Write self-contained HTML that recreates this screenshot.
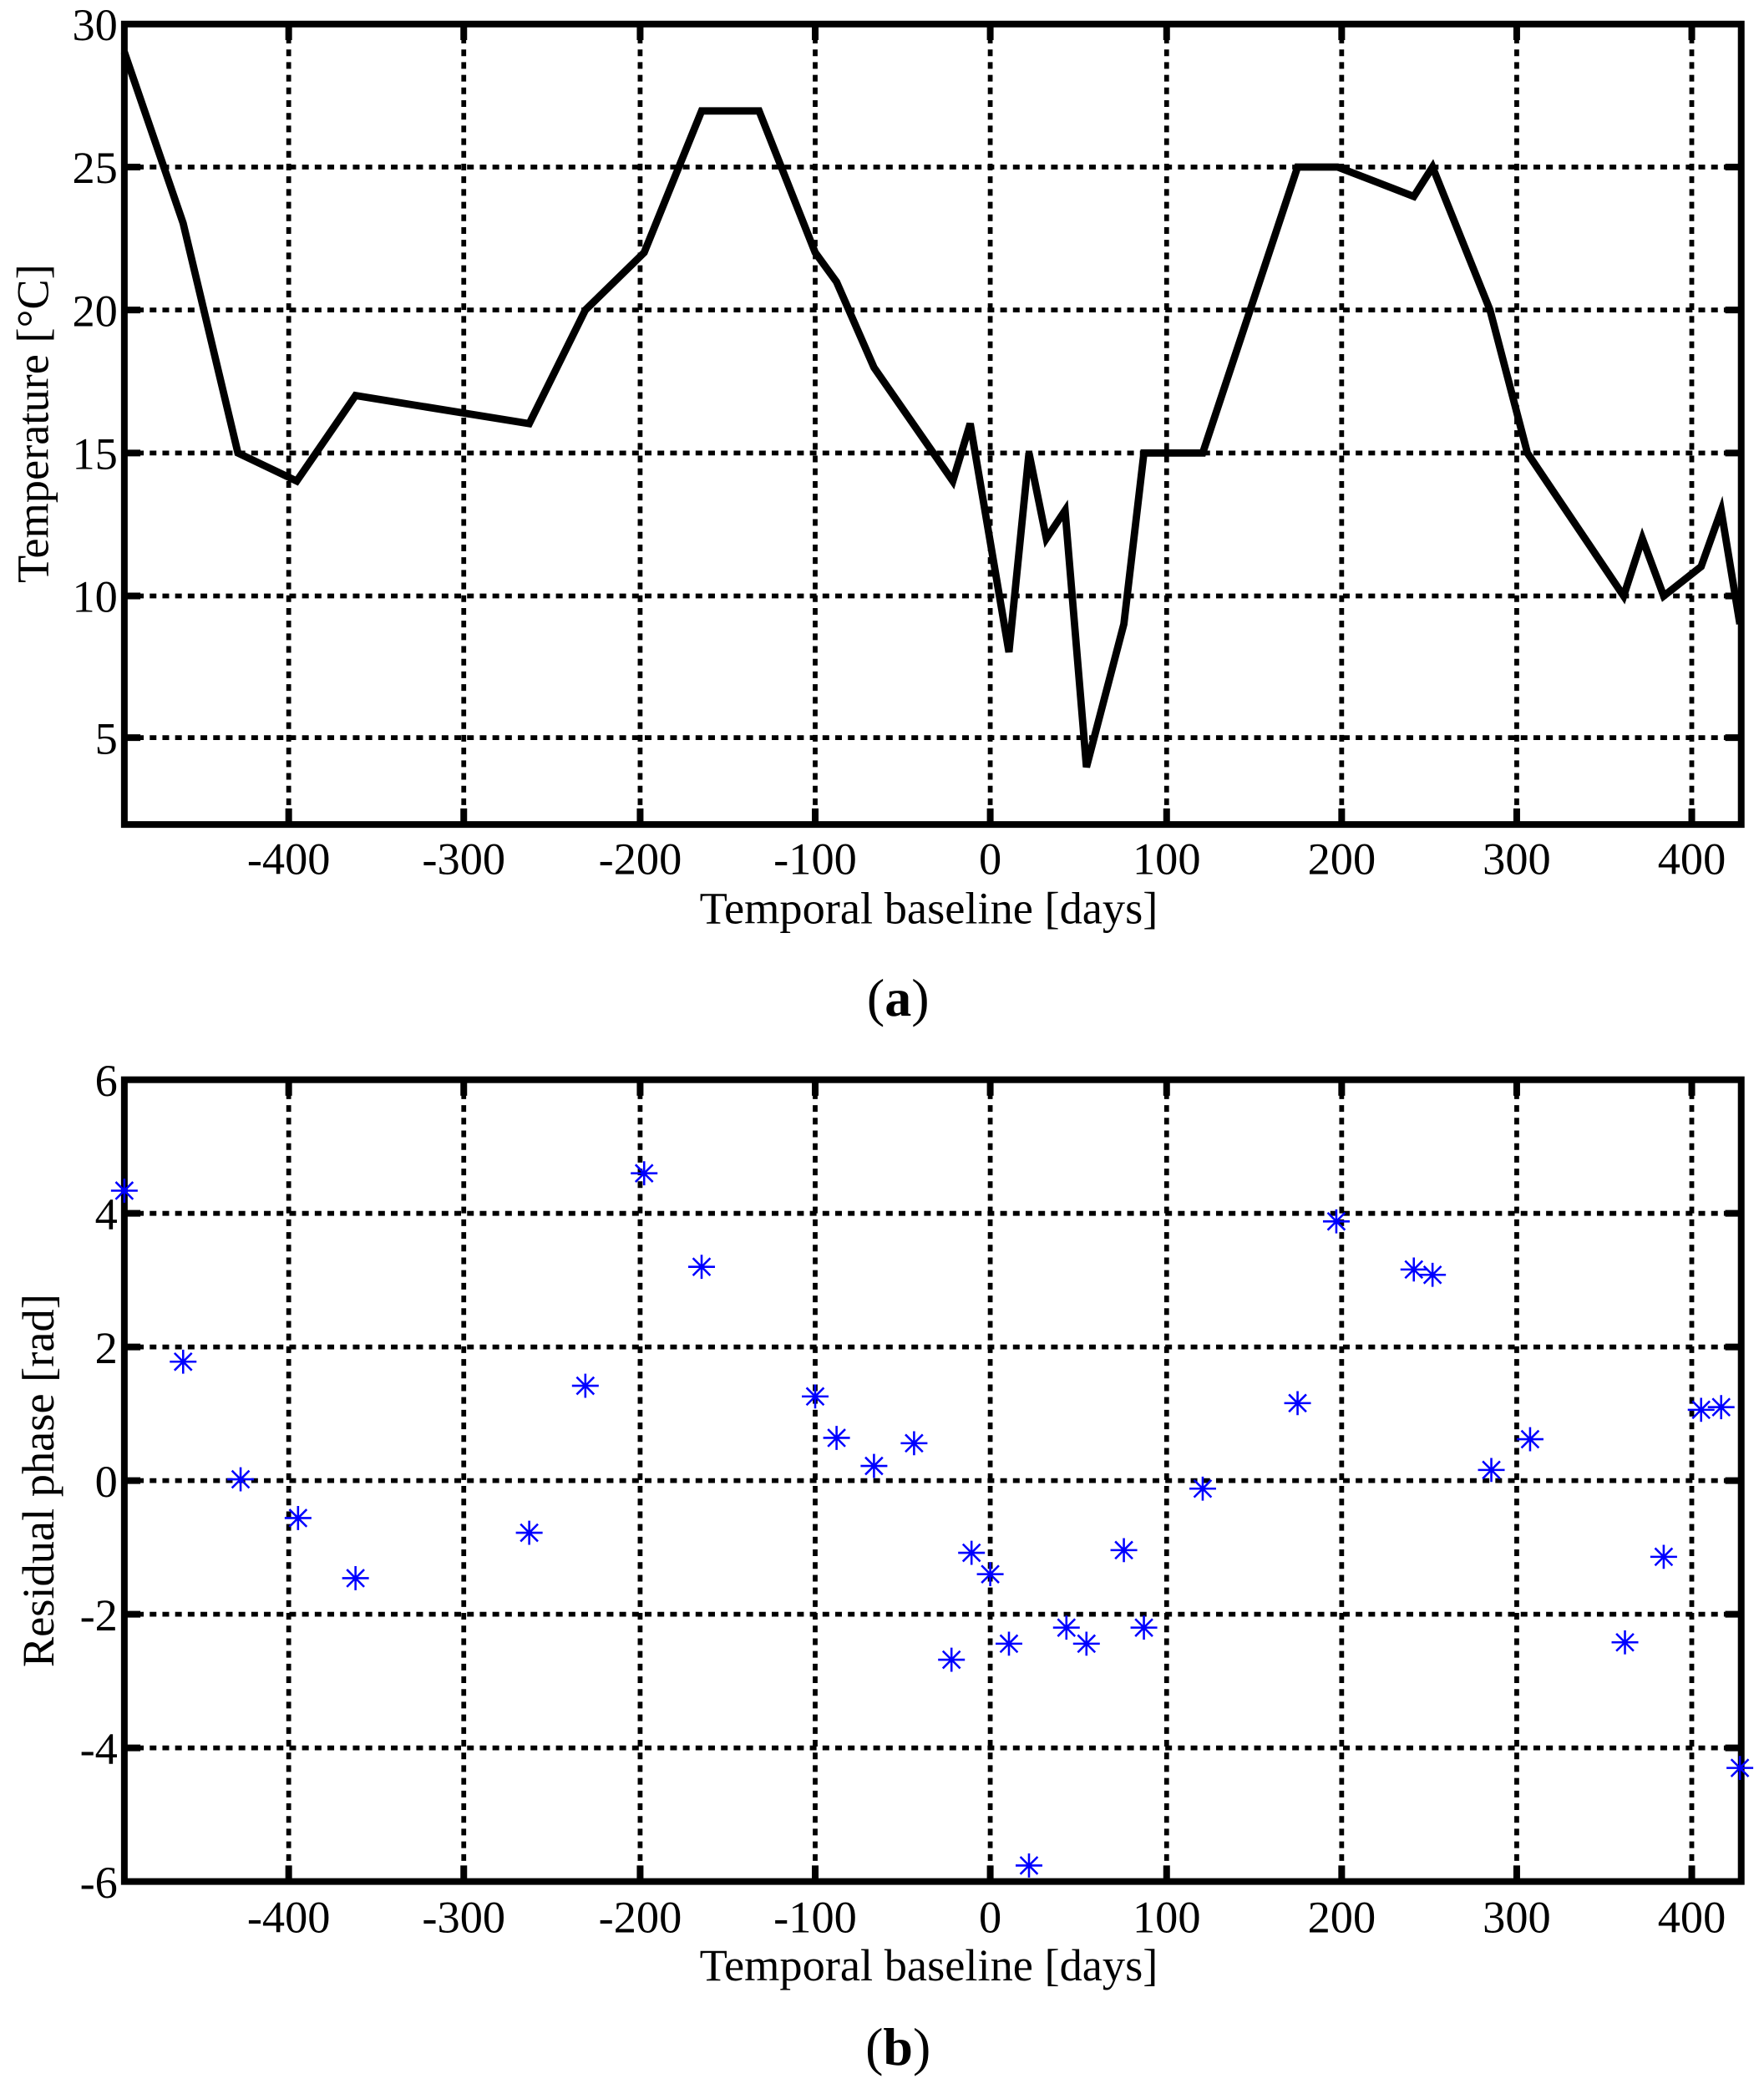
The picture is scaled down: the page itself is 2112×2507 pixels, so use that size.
<!DOCTYPE html>
<html><head><style>html,body{margin:0;padding:0;background:#fff}svg{display:block}</style></head>
<body>
<svg width="2112" height="2507" viewBox="0 0 1320 1567" xmlns="http://www.w3.org/2000/svg" font-family="Liberation Serif, serif" font-size="34">
<rect width="1320" height="1567" fill="#fff"/>
<g stroke="#000" stroke-width="3.6" stroke-dasharray="5,4.5" fill="none">
<path d="M216 18V617M347 18V617M479 18V617M610 18V617M741 18V617M873 18V617M1004 18V617M1135 18V617M1266 18V617"/>
<path d="M93 125H1303M93 232H1303M93 339H1303M93 446H1303M93 552H1303"/>
<path d="M216 808V1408M347 808V1408M479 808V1408M610 808V1408M741 808V1408M873 808V1408M1004 808V1408M1135 808V1408M1266 808V1408"/>
<path d="M93 908H1303M93 1008H1303M93 1108H1303M93 1208H1303M93 1308H1303"/>
</g>
<polyline fill="none" stroke="#000" stroke-width="5.5" stroke-linejoin="miter" points="93,39 137,167 178,339 222,360 266,296 396,317 438,232 482,189 525,83 568,83 610,189 626,211 654,275 713,360 726,317 755,488 770,339 783,403 797,382 813,574 841,467 856,339 900,339 971,125 1001,125 1058,147 1072,125 1115,232 1143,339 1215,446 1229,403 1245,446 1273,424 1288,382 1302,467"/>
<g stroke="#000" stroke-width="5" fill="none">
<rect x="93" y="18" width="1210" height="599"/>
<rect x="93" y="808" width="1210" height="600"/>
<path d="M216 18v12M347 18v12M479 18v12M610 18v12M741 18v12M873 18v12M1004 18v12M1135 18v12M1266 18v12M216 617v-12M347 617v-12M479 617v-12M610 617v-12M741 617v-12M873 617v-12M1004 617v-12M1135 617v-12M1266 617v-12"/>
<path d="M93 125h12M93 232h12M93 339h12M93 446h12M93 552h12M1303 125h-12M1303 232h-12M1303 339h-12M1303 446h-12M1303 552h-12"/>
<path d="M216 808v12M347 808v12M479 808v12M610 808v12M741 808v12M873 808v12M1004 808v12M1135 808v12M1266 808v12M216 1408v-12M347 1408v-12M479 1408v-12M610 1408v-12M741 1408v-12M873 1408v-12M1004 1408v-12M1135 1408v-12M1266 1408v-12"/>
<path d="M93 908h12M93 1008h12M93 1108h12M93 1208h12M93 1308h12M1303 908h-12M1303 1008h-12M1303 1108h-12M1303 1208h-12M1303 1308h-12"/>
</g>
<defs><g id="s" stroke="#00f" stroke-width="1.6"><path d="M-10 0H10M0 -9V9M-6.5 -6.5L6.5 6.5M-6.5 6.5L6.5 -6.5"/></g></defs>
<g>
<use href="#s" x="93" y="891"/><use href="#s" x="137" y="1019"/><use href="#s" x="180" y="1107"/><use href="#s" x="223" y="1136"/><use href="#s" x="266" y="1181"/><use href="#s" x="396" y="1147"/><use href="#s" x="438" y="1037"/><use href="#s" x="482" y="878"/><use href="#s" x="525" y="948"/><use href="#s" x="610" y="1045"/><use href="#s" x="626" y="1076"/><use href="#s" x="654" y="1097"/><use href="#s" x="684" y="1080"/><use href="#s" x="712" y="1242"/><use href="#s" x="727" y="1162"/><use href="#s" x="741" y="1178"/><use href="#s" x="755" y="1230"/><use href="#s" x="770" y="1396"/><use href="#s" x="798" y="1218"/><use href="#s" x="813" y="1230"/><use href="#s" x="841" y="1160"/><use href="#s" x="856" y="1218"/><use href="#s" x="900" y="1114"/><use href="#s" x="971" y="1050"/><use href="#s" x="1000" y="914"/><use href="#s" x="1058" y="950"/><use href="#s" x="1072" y="954"/><use href="#s" x="1116" y="1100"/><use href="#s" x="1145" y="1077"/><use href="#s" x="1216" y="1229"/><use href="#s" x="1245" y="1165"/><use href="#s" x="1273" y="1055"/><use href="#s" x="1288" y="1053"/><use href="#s" x="1302" y="1323"/>
</g>
<g text-anchor="end">
<text x="88" y="30">30</text><text x="88" y="137">25</text><text x="88" y="244">20</text><text x="88" y="351">15</text><text x="88" y="458">10</text><text x="88" y="564">5</text>
<text x="88" y="820">6</text><text x="88" y="920">4</text><text x="88" y="1020">2</text><text x="88" y="1120">0</text><text x="88" y="1220">-2</text><text x="88" y="1320">-4</text><text x="88" y="1420">-6</text>
</g>
<g text-anchor="middle">
<text x="216" y="654">-400</text><text x="347" y="654">-300</text><text x="479" y="654">-200</text><text x="610" y="654">-100</text><text x="741" y="654">0</text><text x="873" y="654">100</text><text x="1004" y="654">200</text><text x="1135" y="654">300</text><text x="1266" y="654">400</text>
<text x="695" y="691">Temporal baseline [days]</text>
<text x="672" y="760" font-size="40">(<tspan font-weight="bold">a</tspan>)</text>
<text x="216" y="1446">-400</text><text x="347" y="1446">-300</text><text x="479" y="1446">-200</text><text x="610" y="1446">-100</text><text x="741" y="1446">0</text><text x="873" y="1446">100</text><text x="1004" y="1446">200</text><text x="1135" y="1446">300</text><text x="1266" y="1446">400</text>
<text x="695" y="1482">Temporal baseline [days]</text>
<text x="672" y="1545" font-size="40">(<tspan font-weight="bold">b</tspan>)</text>
<text transform="translate(36,317) rotate(-90)">Temperature [°C]</text>
<text transform="translate(40,1108) rotate(-90)">Residual phase [rad]</text>
</g>
</svg>
</body></html>
